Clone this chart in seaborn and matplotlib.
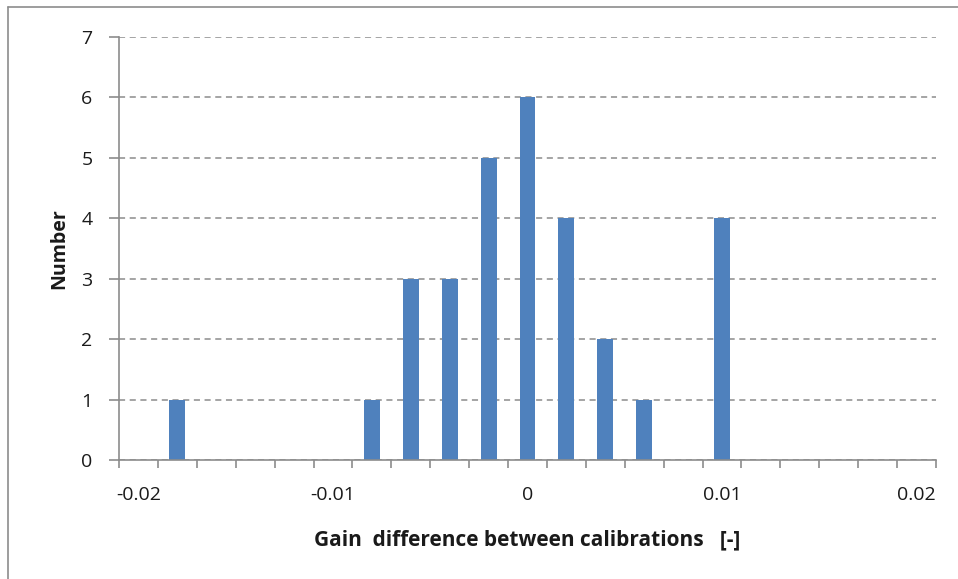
import matplotlib
matplotlib.use("Agg")
import matplotlib.pyplot as plt
from matplotlib.lines import Line2D
import numpy as np
import pandas as pd
import seaborn as sns

# Histogram bins (centre of each 0.002-wide bin) and counts
bin_centres = [-0.020, -0.018, -0.016, -0.014, -0.012, -0.010, -0.008,
               -0.006, -0.004, -0.002, 0.000, 0.002, 0.004, 0.006,
               0.008, 0.010, 0.012, 0.014, 0.016, 0.018, 0.020]
counts = [0, 1, 0, 0, 0, 0, 1, 3, 3, 5, 6, 4, 2, 1, 0, 4, 0, 0, 0, 0, 0]
tick_labels = ["-0.02", "-0.01", "0", "0.01", "0.02"]
tick_positions = [-0.02, -0.01, 0.0, 0.01, 0.02]

sns.set_theme(style="white")
plt.rcParams["font.family"] = ["Open Sans", "DejaVu Sans"]

df = pd.DataFrame({"bin": [f"{b:.3f}" for b in bin_centres], "count": counts})
order = list(df["bin"])

fig = plt.figure(figsize=(9.58, 5.79), dpi=100)
ax = fig.add_axes([119 / 958, 1 - 460 / 579, (936 - 119) / 958, (460 - 37) / 579])
ax.set_axisbelow(True)

sns.barplot(data=df, x="bin", y="count", order=order, color="#4F81BD",
            saturation=1, width=0.41, linewidth=0, edgecolor="none", ax=ax)
for bar in ax.patches:
    bar.set_zorder(3)

ax.set_xlim(-0.5, len(order) - 0.5)
ax.set_ylim(0, 7)

# Labelled categories every 0.01, tick marks at bin boundaries
label_idx = [int(np.argmin(np.abs(np.array(bin_centres) - t))) for t in tick_positions]
ax.set_xticks(label_idx)
ax.set_xticklabels(tick_labels)
ax.set_xticks(np.arange(-0.5, len(order), 1.0), minor=True)
ax.tick_params(axis="x", which="major", length=0, pad=19, labelsize=14,
               labelcolor="#1a1a1a")
ax.tick_params(axis="x", which="minor", length=6, width=1.2, color="#8c8c8c",
               direction="out", bottom=True)

ax.set_yticks(range(0, 8))
ax.tick_params(axis="y", which="major", length=7, width=1.2, color="#8c8c8c",
               direction="out", left=True, pad=12, labelsize=14,
               labelcolor="#1a1a1a")

ax.yaxis.grid(True, linestyle=(0, (4, 3)), color="#8c8c8c", linewidth=1.1, zorder=0)
ax.xaxis.grid(False)

for side in ["top", "right"]:
    ax.spines[side].set_visible(False)
for side in ["left", "bottom"]:
    ax.spines[side].set_color("#8c8c8c")
    ax.spines[side].set_linewidth(1.2)
    ax.spines[side].set_zorder(4)

ax.set_xlabel("Gain  difference between calibrations   [-]", fontsize=15,
              fontweight="bold", color="#1a1a1a", labelpad=18)
ax.set_ylabel("Number", fontsize=14, fontweight="bold", color="#1a1a1a",
              labelpad=9)

# Chart-area frame on the left and top edges
fig.add_artist(Line2D([7.5 / 958, 7.5 / 958], [0, 1 - 6.5 / 579],
                      transform=fig.transFigure, color="#8c8c8c", linewidth=1.2))
fig.add_artist(Line2D([7.5 / 958, 1], [1 - 6.5 / 579, 1 - 6.5 / 579],
                      transform=fig.transFigure, color="#8c8c8c", linewidth=1.2))

fig.savefig("out.png", dpi=100)
